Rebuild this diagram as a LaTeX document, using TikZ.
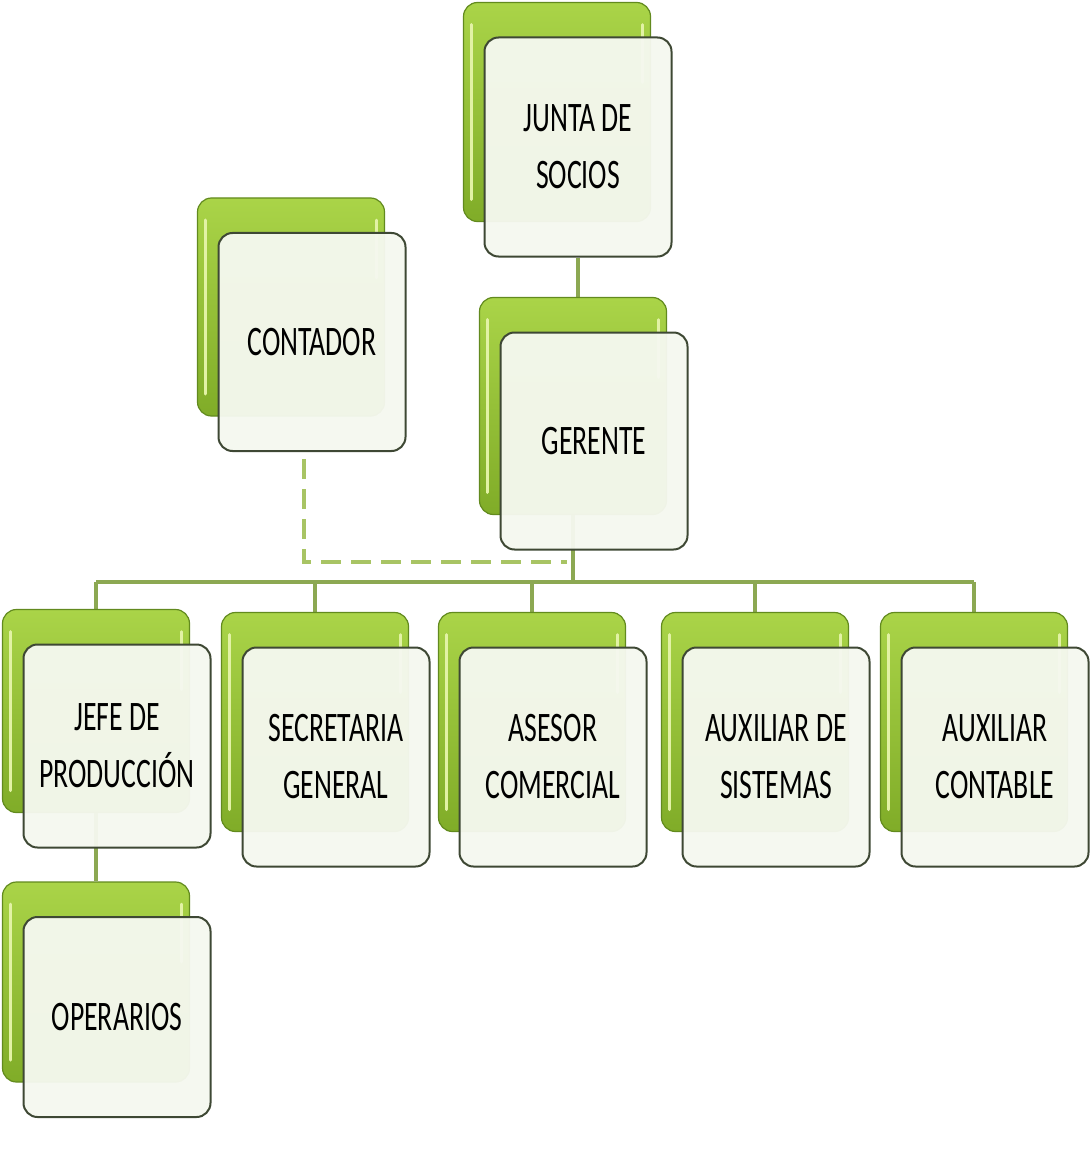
\documentclass[tikz,border=0pt]{standalone}
\usepackage{fontspec}
\setmainfont{Carlito}[FakeStretch=0.66]
\usetikzlibrary{backgrounds}

\definecolor{verdeA}{RGB}{170,212,72}
\definecolor{verdeB}{RGB}{128,172,40}
\definecolor{verdeC}{RGB}{98,138,30}
\definecolor{brillo}{RGB}{226,242,165}
\definecolor{crema}{RGB}{245,248,239}
\definecolor{borde}{RGB}{62,72,52}
\definecolor{conector}{RGB}{140,168,82}
\definecolor{punteo}{RGB}{168,196,100}

\tikzset{
	fondo/.style={rounded corners=14, minimum width=187, inner sep=0,
		top color=verdeA, bottom color=verdeB, draw=verdeC, line width=1.2,
		path picture={
			\draw[brillo, line width=3, line cap=round]
				([xshift=8,yshift=-22]path picture bounding box.north west) --
				([xshift=8,yshift=22]path picture bounding box.south west);
			\draw[brillo, line width=2.5, line cap=round]
				([xshift=-8,yshift=-22]path picture bounding box.north east) --
				([xshift=-8,yshift=-80]path picture bounding box.north east);
		}},
	tarjeta/.style={rounded corners=14, minimum width=187, inner sep=0,
		fill=crema, fill opacity=0.96, text opacity=1, draw=borde, line width=2,
		align=center, font=\fontsize{42}{57}\selectfont},
	linea/.style={draw=conector, line width=3.5},
	punteado/.style={draw=punteo, line width=4.5, dash pattern=on 20 off 10}
}

\begin{document}
\begin{tikzpicture}[x=1pt, y=-1pt]
\useasboundingbox (0,0) rectangle (1090,1158);

\foreach \n/\x/\y/\h/\t in {
	junta/578/147/219/{JUNTA DE\\SOCIOS},
	cont/312/342/218/{CONTADOR},
	ger/594/441/217/{GERENTE},
	jefe/117/746/203/{JEFE DE\\PRODUCCIÓN},
	sec/336/757/219/{SECRETARIA\\GENERAL},
	ase/553/757/219/{ASESOR\\COMERCIAL},
	auxs/776/757/219/{AUXILIAR DE\\SISTEMAS},
	auxc/995/757/219/{AUXILIAR\\CONTABLE},
	oper/117/1017/200/{OPERARIOS}%
}{
	\node[fondo, minimum height=\h] (f\n) at (\x-21,\y-35) {};
	\node[tarjeta, minimum height=\h] (\n) at (\x,\y) {\t};
}

\begin{scope}[on background layer]
\coordinate (nudo) at (573,582);
\coordinate (corte) at (567,562);

\draw[linea] (junta.south) -- (junta.south |- fger.north);
\draw[linea] (fger.south) -- (fger.south |- nudo);
\draw[linea] (fjefe.north |- nudo) -- (fauxc.north |- nudo);
\foreach \n in {jefe,sec,ase,auxs,auxc}{
	\draw[linea] (f\n.north |- nudo) -- (f\n.north);
}
\draw[linea] (fjefe.south) -- (foper.north);

\draw[punteado] ([xshift=-8,yshift=-7]cont.south) |- (corte);
\end{scope}
\end{tikzpicture}
\end{document}
